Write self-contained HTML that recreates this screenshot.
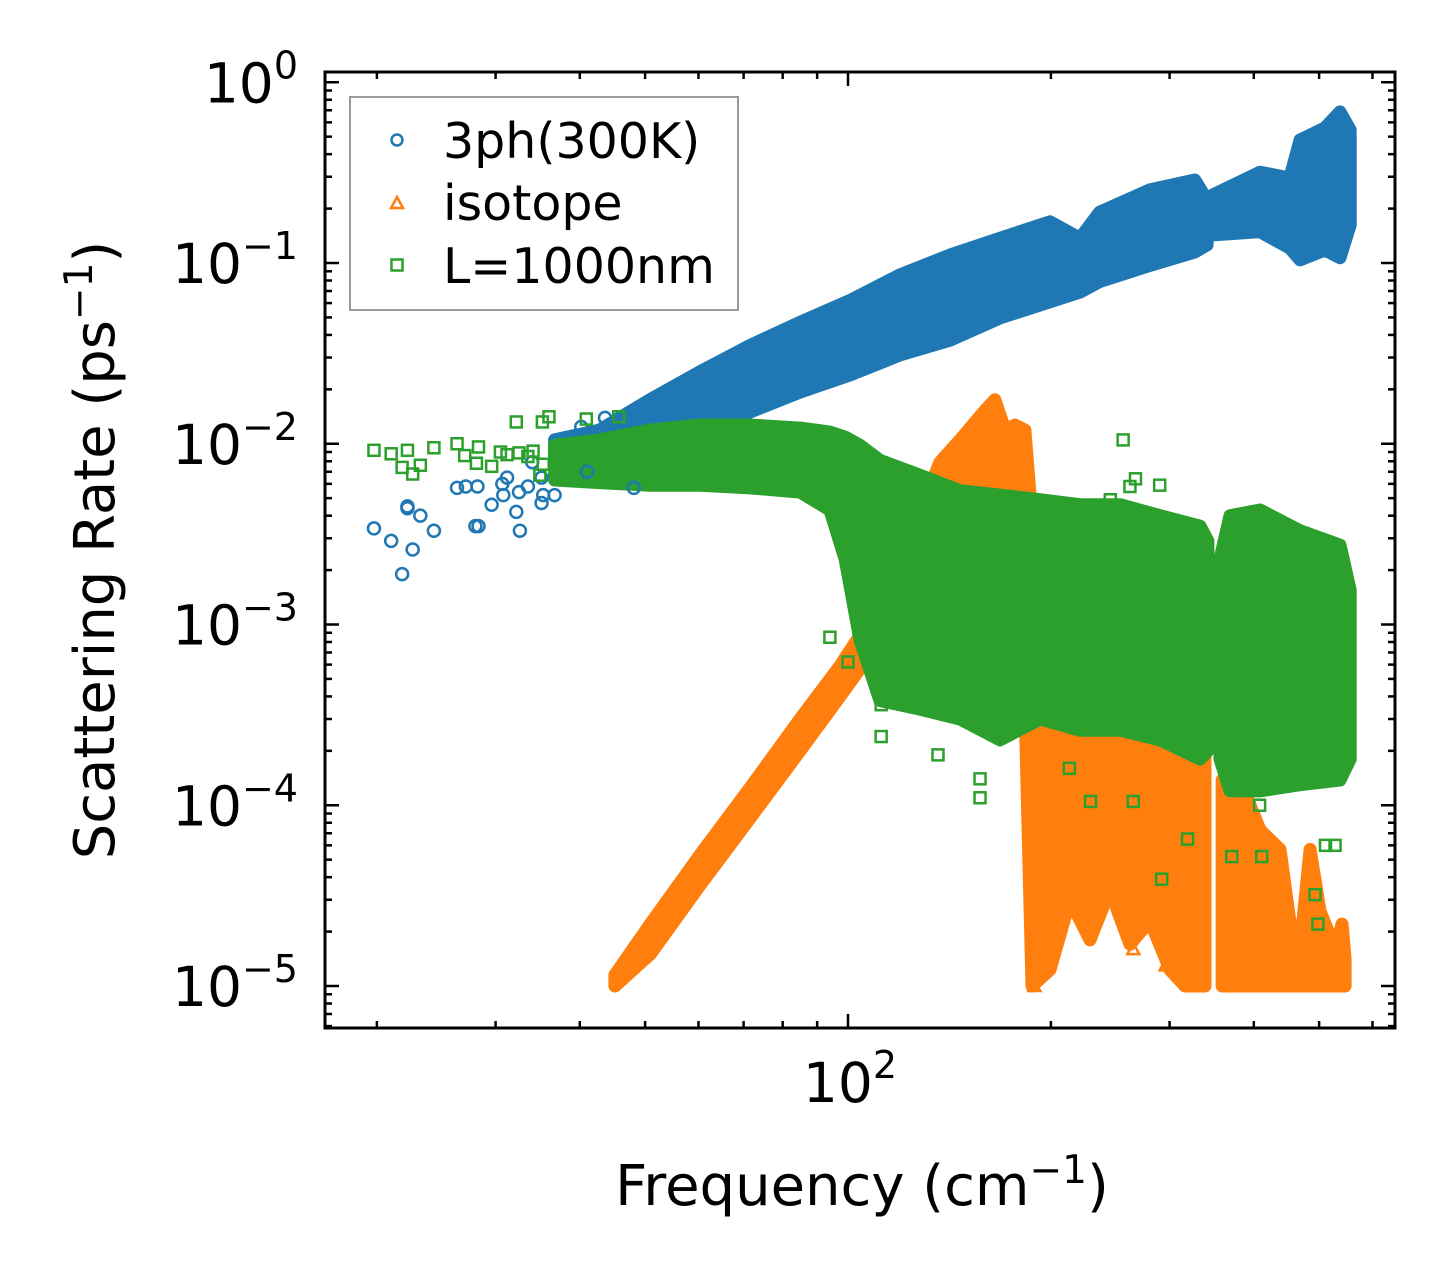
<!DOCTYPE html>
<html><head><meta charset="utf-8"><style>
html,body{margin:0;padding:0;background:#fff;}
svg{display:block;font-family:"DejaVu Sans","Liberation Sans",sans-serif;}
</style></head><body>
<svg id="chart" width="1455" height="1278" viewBox="0 0 1455 1278" xmlns="http://www.w3.org/2000/svg">
<g id="bands"></g>
<g id="pts"></g>
<g id="axes"></g>
<g>
<rect x="350" y="97" width="388" height="213" fill="#fff" fill-opacity="0.8" stroke="#999" stroke-width="2"/>
<circle cx="397" cy="140" r="5.5" fill="none" stroke="#1f77b4" stroke-width="2.5"/>
<text x="443" y="158" font-size="49">3ph(300K)</text>
<path d="M397,197 L403,208 L391,208 Z" fill="none" stroke="#ff7f0e" stroke-width="2.5"/>
<text x="443" y="220" font-size="49">isotope</text>
<rect x="391.5" y="259.5" width="11" height="11" fill="none" stroke="#2ca02c" stroke-width="2.5"/>
<text x="443" y="283" font-size="49">L=1000nm</text>
</g>
<text x="862" y="1205" font-size="56" text-anchor="middle">Frequency (cm<tspan font-size="39" dy="-22">−1</tspan><tspan dy="22">)</tspan></text>
<text transform="translate(114,550) rotate(-90)" font-size="56" text-anchor="middle">Scattering Rate (ps<tspan font-size="39" dy="-22">−1</tspan><tspan dy="22">)</tspan></text>
</svg>
<script>
// ---- data ----
const blueF = [36.7,42.8,50.8,60.3,71.6,84.9,100.7,119.5,142.0,168.1,199.4,220.9,236.3,280.6,327.0,341.0];
const blueHi = [1.05e-2,1.19e-2,1.75e-2,2.5e-2,3.5e-2,4.7e-2,6.2e-2,8.6e-2,0.111,0.137,0.169,0.137,0.191,0.254,0.288,0.223];
const blueLo = [7.2e-3,7.2e-3,9.0e-3,1.16e-2,1.5e-2,1.93e-2,2.4e-2,3.1e-2,3.75e-2,4.97e-2,6.1e-2,6.9e-2,7.9e-2,9.7e-2,0.115,0.126];
const blueF2 = [348.0,408.6,452.4,468.5,510.0,537.0,556.0];
const blueHi2 = [0.238,0.318,0.295,0.479,0.558,0.685,0.544];
const blueLo2 = [0.143,0.149,0.121,0.104,0.118,0.107,0.162];
const bluePtF = [19.8,21.0,21.8,22.2,22.2,22.6,23.2,24.3,26.3,27.1,28.2,28.0,28.3,29.6,30.7,31.2,30.8,32.2,32.6,32.5,33.5,35.1,35.3,36.7,35.1,34.0,40.2,43.6,48.1,41.0];
const bluePtV = [3.4e-3,2.9e-3,1.9e-3,4.5e-3,4.4e-3,2.6e-3,4.0e-3,3.3e-3,5.7e-3,5.8e-3,5.8e-3,3.5e-3,3.5e-3,4.6e-3,6.0e-3,6.5e-3,5.2e-3,4.2e-3,3.3e-3,5.4e-3,5.8e-3,4.7e-3,5.2e-3,5.2e-3,6.5e-3,7.9e-3,1.24e-2,1.39e-2,5.7e-3,7.0e-3];

const isoF = [45.1,50.9,60.3,71.6,84.9,97.3,107.8,119.5,130.1,136.9,146.6,159.7,165.2,171.0,176.9,183.0,187.5,199.4,213.5,228.6,244.7,262.1,280.6,300.4,316.2,338.6];
const isoHi = [1.15e-5,2.2e-5,5.3e-5,1.25e-4,3.0e-4,5.9e-4,1.06e-3,2.3e-3,4.9e-3,7.9e-3,1.05e-2,1.53e-2,1.75e-2,1.19e-2,1.27e-2,1.19e-2,3.8e-3,3.8e-4,3.8e-4,3.8e-4,3.8e-4,3.8e-4,3.8e-4,3.8e-4,3.8e-4,3.8e-4];
const isoLo = [1.0e-5,1.5e-5,3.6e-5,8.5e-5,2.0e-4,4.0e-4,6.8e-4,3.8e-4,3.8e-4,3.8e-4,3.8e-4,3.8e-4,3.8e-4,3.8e-4,3.8e-4,3.8e-4,1.0e-5,1.23e-5,3.0e-5,1.8e-5,3.4e-5,1.7e-5,2.3e-5,1.23e-5,1.0e-5,1.0e-5];
const isoF2 = [358.9,381.6,408.6,437.5,452.4,468.5,484.8,501.5,528.0,540.8,546.5];
const isoHi2 = [1.38e-4,1.38e-4,7.3e-5,5.7e-5,2.3e-5,1.6e-5,5.7e-5,2.6e-5,1.6e-5,2.2e-5,1.4e-5];
const isoLo2 = [1.0e-5,1.0e-5,1.0e-5,1.0e-5,1.0e-5,1.0e-5,1.0e-5,1.0e-5,1.0e-5,1.0e-5,1.0e-5];
const isoPtF = [265,189,296,192];
const isoPtV = [1.6e-5,1.0e-5,1.3e-5,1.3e-5];

const bndF = [36.7,42.8,50.8,60.3,71.6,84.9,94.0,99.0,104.2,111.5,127.9,146.6,168.1,192.7,220.9,253.3,290.4,333.0,342.0];
const bndHi = [9.8e-3,1.05e-2,1.19e-2,1.27e-2,1.27e-2,1.22e-2,1.16e-2,1.09e-2,9.8e-3,8.1e-3,6.7e-3,5.5e-3,5.2e-3,4.9e-3,4.6e-3,4.6e-3,4.0e-3,3.5e-3,2.9e-3];
const bndLo = [6.3e-3,6.1e-3,5.9e-3,5.9e-3,5.7e-3,5.4e-3,4.3e-3,2.3e-3,8.2e-4,3.8e-4,3.4e-4,3.0e-4,2.3e-4,3.0e-4,2.6e-4,2.6e-4,2.3e-4,1.8e-4,2.0e-4];
const bndF2 = [356.4,368.8,408.6,468.5,537.0,556.0];
const bndHi2 = [2.3e-3,4.0e-3,4.3e-3,3.3e-3,2.75e-3,1.55e-3];
const bndLo2 = [1.8e-4,1.2e-4,1.2e-4,1.3e-4,1.38e-4,1.8e-4];
const bndPtF = [19.8,21.0,22.2,21.8,22.6,23.2,24.3,26.3,27.0,28.3,28.1,29.6,30.5,31.2,32.2,35.2,36.0,32.5,34.1,33.5,35.3,36.7,34.9,40.9,45.7,256,267,245,262,290,136,157,157,229,265,319,292,371,411,493,498,511,528,408,369,94,100,112,112,213];
const bndPtV = [9.2e-3,8.8e-3,9.2e-3,7.4e-3,6.8e-3,7.6e-3,9.5e-3,1.0e-2,8.6e-3,9.6e-3,7.8e-3,7.5e-3,9.0e-3,8.7e-3,1.32e-2,1.32e-2,1.41e-2,8.9e-3,9.1e-3,8.5e-3,7.7e-3,7.7e-3,6.7e-3,1.37e-2,1.41e-2,1.05e-2,6.4e-3,4.9e-3,5.8e-3,5.9e-3,1.9e-4,1.4e-4,1.1e-4,1.05e-4,1.05e-4,6.5e-5,3.9e-5,5.2e-5,5.2e-5,3.2e-5,2.2e-5,6.0e-5,6.0e-5,1.0e-4,1.8e-4,8.5e-4,6.2e-4,3.6e-4,2.4e-4,1.6e-4];

const yTickExp = [0,-1,-2,-3,-4,-5];
const xTickExp = [2];

// ---- axes functions ----
const X0=325, X1=1395, Y0=72, Y1=1028;
const xPerDec=674, x100=848, yPerDec=180.75, y1=82.25;
function sx(f){return x100+(Math.log10(f)-2)*xPerDec;}
function sy(v){return y1-Math.log10(v)*yPerDec;}
const NS="http://www.w3.org/2000/svg";
function mk(tag,attrs,parent){const e=document.createElementNS(NS,tag);for(const k in attrs)e.setAttribute(k,attrs[k]);parent.appendChild(e);return e;}

const bands=document.getElementById('bands'), pts=document.getElementById('pts'), axes=document.getElementById('axes');
const clip=mk('clipPath',{id:'pc'},document.getElementById('chart'));
mk('rect',{x:X0,y:Y0,width:X1-X0,height:Y1-Y0},clip);
bands.setAttribute('clip-path','url(#pc)');

function band(F,H,L,color,name){
  let d='M'+F.map((f,i)=>sx(f).toFixed(1)+','+sy(H[i]).toFixed(1)).join(' L');
  for(let i=F.length-1;i>=0;i--) d+=' L'+sx(F[i]).toFixed(1)+','+sy(L[i]).toFixed(1);
  const p=mk('path',{d:d+'Z',fill:color,stroke:color,'stroke-width':13,'stroke-linejoin':'round'},bands);
  
  
}
function circ(F,V,name){F.forEach((f,i)=>{const c=mk('circle',{cx:sx(f),cy:sy(V[i]),r:6,fill:'none',stroke:'#1f77b4','stroke-width':2.5},pts);
  
  });}
function sq(F,V,name){F.forEach((f,i)=>{const c=mk('rect',{x:sx(f)-5.5,y:sy(V[i])-5.5,width:11,height:11,fill:'none',stroke:'#2ca02c','stroke-width':2.5},pts);
  
  });}
function tri(F,V,name){F.forEach((f,i)=>{const x=sx(f),y=sy(V[i]);const c=mk('path',{d:`M${x},${y-6} L${x+6},${y+5} L${x-6},${y+5} Z`,fill:'none',stroke:'#ff7f0e','stroke-width':2.5},pts);
  
  });}

band(blueF,blueHi,blueLo,'#1f77b4','series-3ph-band');
band(blueF2,blueHi2,blueLo2,'#1f77b4','series-3ph-band-high');
circ(bluePtF,bluePtV,'point-3ph');
band(isoF,isoHi,isoLo,'#ff7f0e','series-isotope-band');
band(isoF2,isoHi2,isoLo2,'#ff7f0e','series-isotope-band-high');
tri(isoPtF,isoPtV,'point-isotope');
band(bndF,bndHi,bndLo,'#2ca02c','series-boundary-band');
band(bndF2,bndHi2,bndLo2,'#2ca02c','series-boundary-band-high');
sq(bndPtF,bndPtV,'point-boundary');

// spine
const sp=mk('rect',{x:X0,y:Y0,width:X1-X0,height:Y1-Y0,fill:'none',stroke:'#000','stroke-width':3},axes);


function tick(x1,y1_,x2,y2){mk('line',{x1:x1,y1:y1_,x2:x2,y2:y2,stroke:'#000','stroke-width':2.5},axes);}
for(let e=-6;e<=0;e++){
  for(let m=1;m<=9;m++){
    const v=m*Math.pow(10,e), y=sy(v);
    if(y<Y0||y>Y1) continue;
    const L=m===1?14:7;
    tick(X0,y,X0+L,y); tick(X1,y,X1-L,y);
  }
}
yTickExp.forEach(e=>{
  const t=mk('text',{x:298,y:sy(Math.pow(10,e))+20,'font-size':55,'text-anchor':'end'},axes);
  
  
  t.textContent='10';
  const s=mk('tspan',{'font-size':38,dy:-24},t); s.textContent=(e<0?'−':'')+Math.abs(e);
});
for(let e=1;e<=2;e++){
  for(let m=1;m<=9;m++){
    const f=m*Math.pow(10,e), x=sx(f);
    if(x<X0||x>X1) continue;
    const L=m===1?14:7;
    tick(x,Y1,x,Y1-L); tick(x,Y0,x,Y0+L);
  }
}
xTickExp.forEach(e=>{
  const t=mk('text',{x:sx(Math.pow(10,e))+2,y:1102,'font-size':55,'text-anchor':'middle'},axes);
  
  
  t.textContent='10';
  const s=mk('tspan',{'font-size':38,dy:-24},t); s.textContent=String(e);
});
</script>
</body></html>
